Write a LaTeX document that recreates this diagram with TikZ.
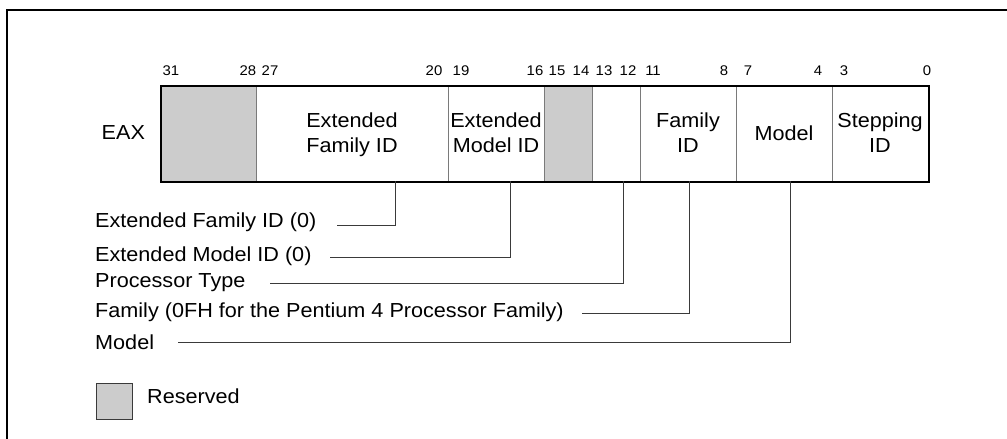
\documentclass[tikz,border=0pt]{standalone}
\usepackage{fontspec}
\setmainfont{Liberation Sans}[FakeStretch=1.065]
\definecolor{resgray}{HTML}{CCCCCC}
\definecolor{divgray}{HTML}{7A7A7A}
\definecolor{conngray}{HTML}{3A3A3A}
\begin{document}
\begin{tikzpicture}[x=1pt,y=-1pt,
  big/.style={font=\fontsize{20.3}{25}\selectfont, inner sep=0pt},
  bitnum/.style={font=\fontsize{14}{16}\selectfont, inner sep=0pt, anchor=base},
  lbl/.style={big, anchor=base west},
  fld/.style={big, anchor=base},
  divider/.style={draw=divgray, line width=1pt},
  conn/.style={draw=conngray, line width=1pt},
]
\useasboundingbox (0,0) rectangle (1007,439);
% frame
\draw[line width=2.2pt] (7,445) -- (7,10) -- (1012,10);
% reserved fills
\fill[resgray] (160,85) rectangle (256,181);
\fill[resgray] (544,85) rectangle (592,181);
% dividers
\foreach \x in {256,448,544,592,640,736,832}
  \draw[divider] (\x,85) -- (\x,181);
% register outline
\node[draw, line width=2pt, minimum width=768pt, minimum height=96pt,
      anchor=north west, inner sep=0pt] (reg) at (160,85) {};
% EAX
\node[lbl] (eax) at (101.5,139) {EAX};
% bit numbers
\foreach \n/\x in {31/171,28/248,27/270,20/434,19/461,16/535,15/557,14/581,
                   13/604,12/628,11/653,8/724,7/748,4/818,3/844,0/927}
  \node[bitnum] (b\n) at (\x,75.5) {\n};
% field texts
\node[fld] (efa) at (352,127) {Extended};
\node[fld] (efb) at (352,152) {Family ID};
\node[fld] (ema) at (496,127) {Extended};
\node[fld] (emb) at (496,152) {Model ID};
\node[fld] (fia) at (688,127) {Family};
\node[fld] (fib) at (688,152) {ID};
\node[fld] (mdl) at (784,140) {Model};
\node[fld] (sta) at (880,127) {Stepping};
\node[fld] (stb) at (880,152) {ID};
% lower labels
\node[lbl] (tEF) at (95,227) {Extended Family ID (0)};
\node[lbl] (tEM) at (95,261) {Extended Model ID (0)};
\node[lbl] (tPT) at (95,287) {Processor Type};
\node[lbl] (tFM) at (95,317) {Family (0FH for the Pentium 4 Processor Family)};
\node[lbl] (tMD) at (95,349) {Model};
% connector points
\coordinate (sEF) at (337,225);
\coordinate (sEM) at (330,257);
\coordinate (sPT) at (270,283);
\coordinate (sFM) at (582,313);
\coordinate (sMD) at (178,342);
\coordinate (pEF) at (395,181);
\coordinate (pEM) at (510,181);
\coordinate (pPT) at (623,181);
\coordinate (pFM) at (689,181);
\coordinate (pMD) at (790,181);
\draw[conn] (sEF) -| (pEF);
\draw[conn] (sEM) -| (pEM);
\draw[conn] (sPT) -| (pPT);
\draw[conn] (sFM) -| (pFM);
\draw[conn] (sMD) -| (pMD);
% legend
\node[draw=conngray, fill=resgray, line width=1.2pt, minimum size=36pt,
      inner sep=0pt, anchor=north west] (leg) at (96,383) {};
\node[lbl] (legt) at (147,403) {Reserved};
\end{tikzpicture}
\end{document}
